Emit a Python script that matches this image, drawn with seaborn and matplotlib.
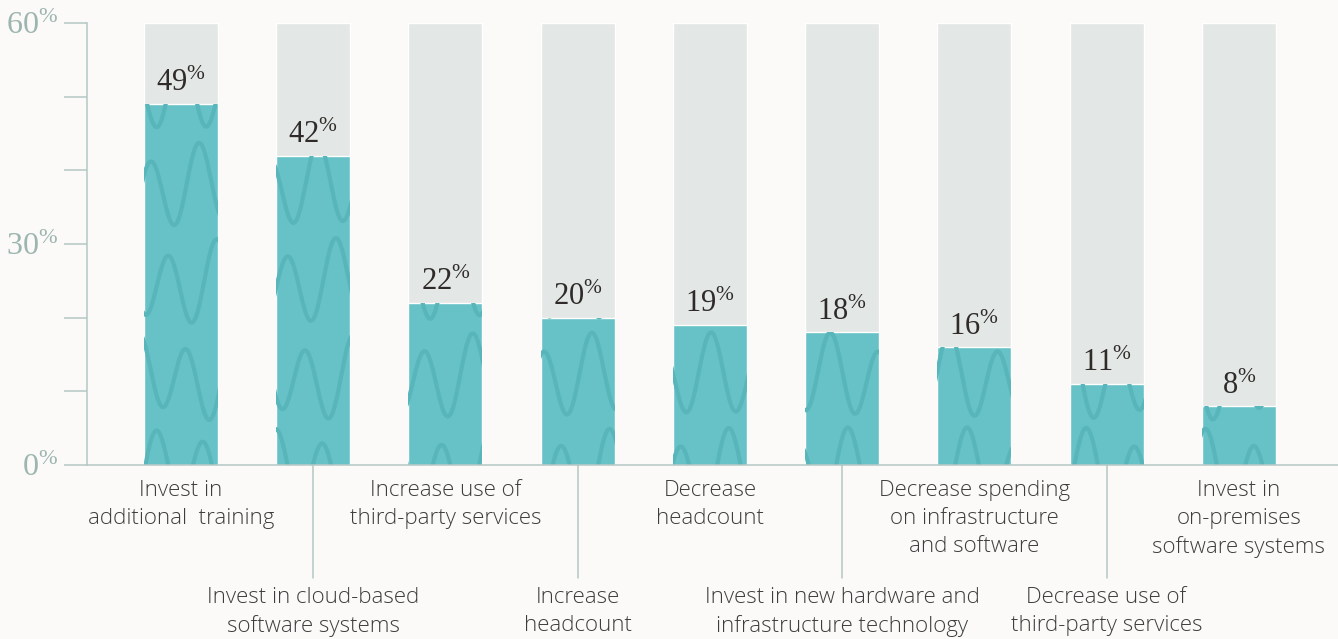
import numpy as np
import pandas as pd
import matplotlib
matplotlib.use("Agg")
import matplotlib.pyplot as plt
import matplotlib.transforms as mtransforms
import seaborn as sns

# Survey responses: planned actions and share of respondents (%)
actions = [
    "Invest in\nadditional  training",
    "Invest in cloud-based\nsoftware systems",
    "Increase use of\nthird-party services",
    "Increase\nheadcount",
    "Decrease\nheadcount",
    "Invest in new hardware and\ninfrastructure technology",
    "Decrease spending\non infrastructure\nand software",
    "Decrease use of\nthird-party services",
    "Invest in\non-premises\nsoftware systems",
]
shares = [49, 42, 22, 20, 19, 18, 16, 11, 8]
scale_max = 60
y_ticks = [0, 10, 20, 30, 40, 50, 60]
y_tick_labels = ["0", "", "", "30", "", "", "60"]

BG = "#fbfaf8"
TRACK = "#e3e7e6"
TEAL = "#67c2c7"
WAVE = "#58b6bb"
AXIS = "#b4c7c4"
TICK_TXT = "#9db5b0"
TEXT = "#3d3d3d"
NUM = "#2e2b28"

sns.set_theme(style="white")
plt.rcParams["font.family"] = ["Open Sans", "DejaVu Sans"]
plt.rcParams["mathtext.fontset"] = "custom"
plt.rcParams["mathtext.rm"] = "Liberation Serif"
plt.rcParams["mathtext.it"] = "Liberation Serif"

df = pd.DataFrame({"action": actions, "share": shares,
                   "track": [scale_max] * len(actions)})

fig = plt.figure(figsize=(13.38, 6.39), dpi=100, facecolor=BG)
ax = fig.add_axes([87 / 1338, (639 - 465) / 639, 1 - 87 / 1338, 442 / 639])
ax.set_facecolor(BG)

# full-height track behind each bar, then the value bar on top
sns.barplot(data=df, x="action", y="track", color=TRACK, width=0.56,
            saturation=1, ax=ax, zorder=1)
n_track = len(ax.patches)
sns.barplot(data=df, x="action", y="share", color=TEAL, width=0.56,
            saturation=1, ax=ax, zorder=2)
value_bars = ax.patches[n_track:]

# decorative wavy texture inside the value bars
for i, bar in enumerate(value_bars):
    x0, w = bar.get_x(), bar.get_width()
    xs = np.linspace(x0 - 0.05, x0 + w + 0.05, 200)
    for r, yc in enumerate(np.arange(-1.0, 66, 12.9)):
        ph = 1.7 * i + 2.3 * r
        ys = yc + 4.8 * np.sin(2 * np.pi * (xs - x0) / 0.36 + ph) \
            + 1.3 * np.sin(2 * np.pi * (xs - x0) / 0.77 + 0.6 * ph)
        ln, = ax.plot(xs, ys, color=WAVE, lw=3.0, solid_capstyle="round",
                      zorder=3)
        ln.set_clip_path(bar)

# value labels with superscript percent sign
for i, v in enumerate(shares):
    ax.annotate(f"{v}$^{{\\%}}$", xy=(i, v), xytext=(0, 4),
                textcoords="offset points", ha="center", va="bottom",
                fontsize=22, color=NUM, family="Liberation Serif", zorder=4)

ax.set_xlim(-0.711, 8.75)
ax.set_ylim(0, scale_max)

# y axis styling
ax.set_yticks(y_ticks)
ax.set_yticklabels([f"{t}$^{{\\%}}$" if t else "" for t in y_tick_labels],
                   family="Liberation Serif", fontsize=23, color=TICK_TXT)
ax.tick_params(axis="y", length=16.5, width=1.1, color=AXIS, pad=4, left=True)
ax.tick_params(axis="x", length=0)
ax.set_xticks(range(len(actions)))
ax.set_xticklabels([])
ax.set_xlabel("")
ax.set_ylabel("")
for side in ("top", "right"):
    ax.spines[side].set_visible(False)
for side in ("left", "bottom"):
    ax.spines[side].set_color(AXIS)
    ax.spines[side].set_linewidth(1.1)
    ax.spines[side].set_zorder(5)

# category labels in two staggered rows, lower row hung from connector lines
trans = mtransforms.blended_transform_factory(ax.transData, ax.transAxes)
label_style = dict(textcoords="offset points", ha="center", va="top",
                   fontsize=16, color=TEXT, fontweight="light",
                   linespacing=1.42)
for i, name in enumerate(actions):
    if i % 2 == 0:
        ax.annotate(name, xy=(i, 0), xycoords=trans, xytext=(0, -11),
                    **label_style)
    else:
        ax.plot([i, i], [0, -113 / 442], transform=trans, color=AXIS,
                lw=1.1, clip_on=False, zorder=5)
        ax.annotate(name, xy=(i, 0), xycoords=trans, xytext=(0, -88),
                    **label_style)

fig.savefig("out.png", dpi=100, facecolor=BG)
